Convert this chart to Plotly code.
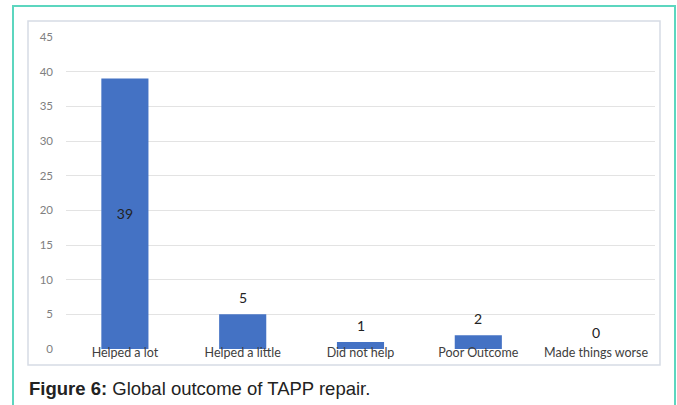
import plotly.graph_objects as go

categories = ["Helped a lot", "Helped a little", "Did not help", "Poor Outcome", "Made things worse"]
values = [39, 5, 1, 2, 0]
y_ticks = [0, 5, 10, 15, 20, 25, 30, 35, 40, 45]

W, H = 677, 405
L, R, T, B = 66, 22, 37, 56
pw, ph = W - L - R, H - T - B

def px_x(px):
    return (px - L) / pw

def px_y(py):
    return (H - B - py) / ph

# tall bars carry their label inside, short ones above (as annotations)
inside_text = [str(v) if v > 20 else "" for v in values]

fig = go.Figure()
fig.add_trace(go.Bar(
    x=categories, y=values,
    marker=dict(color="#4472c4", line=dict(width=0)),
    width=0.4,
    text=inside_text,
    textposition="inside",
    insidetextanchor="middle",
    textfont=dict(family="Lato, Open Sans, sans-serif", size=14, color="#222222"),
))

label_annotations = [
    dict(x=c, y=v, xref="x", yref="y", text=str(v), showarrow=False,
         yanchor="middle", yshift=17,
         font=dict(family="Lato, Open Sans, sans-serif", size=14, color="#222222"))
    for c, v in zip(categories, values) if v <= 20
]

fig.update_layout(
    width=W, height=H,
    margin=dict(l=L, r=R, t=T, b=B),
    paper_bgcolor="white", plot_bgcolor="white",
    showlegend=False,
    uniformtext=dict(minsize=8, mode="show"),
    xaxis=dict(
        showgrid=False, zeroline=False, showline=False,
        tickfont=dict(family="Lato, Open Sans, sans-serif", size=12.5, color="#404040"),
        ticklabelstandoff=-6,
    ),
    yaxis=dict(
        range=[0, 45], tickvals=y_ticks,
        showgrid=True, gridcolor="#e3e3e3", gridwidth=1,
        zeroline=False, showline=False,
        tickfont=dict(family="Lato, Open Sans, sans-serif", size=11.5, color="#808080"),
        ticklabelstandoff=12,
    ),
    shapes=[
        dict(type="rect", xref="paper", yref="paper",
             x0=px_x(13), x1=px_x(675), y0=px_y(420), y1=px_y(6),
             line=dict(color="#5cd6bf", width=2), layer="below"),
        dict(type="rect", xref="paper", yref="paper",
             x0=px_x(28), x1=px_x(660), y0=px_y(365), y1=px_y(21),
             line=dict(color="#d6dbe5", width=1.5), layer="below"),
    ],
    annotations=label_annotations + [
        dict(xref="paper", yref="paper", x=px_x(27), y=px_y(388),
             xanchor="left", yanchor="middle", showarrow=False,
             text="<b>Figure 6:</b> Global outcome of TAPP repair.",
             font=dict(family="Liberation Sans, Arial, sans-serif", size=18.5, color="#222222")),
    ],
)

fig.write_html("out.html", config={"displayModeBar": False},
               post_script="document.body.style.margin='0';document.body.style.overflow='hidden';")
